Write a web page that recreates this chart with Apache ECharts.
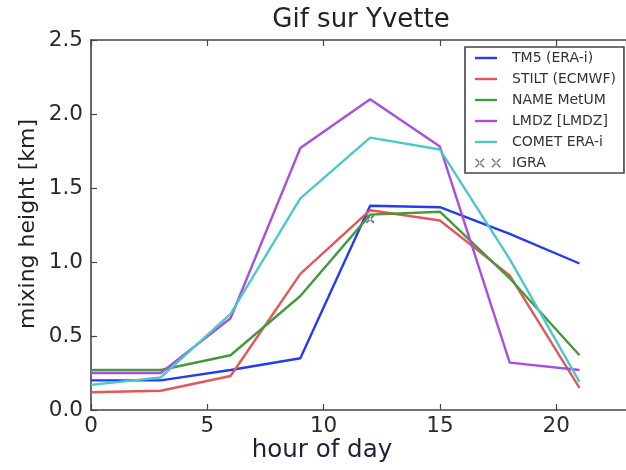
<!DOCTYPE html>
<html><head><meta charset="utf-8">
<script src="https://cdn.jsdelivr.net/npm/echarts@6/dist/echarts.min.js"></script>
<style>html,body{margin:0;padding:0;background:#fff}#c{width:626px;height:470px}</style>
</head><body><div id="c"></div>
<script>
const hours = [0, 3, 6, 9, 12, 15, 18, 21];
const tm5 = [0.20, 0.20, 0.27, 0.35, 1.38, 1.37, 1.19, 0.99];
const stilt = [0.12, 0.13, 0.23, 0.92, 1.35, 1.28, 0.91, 0.15];
const nameMet = [0.27, 0.27, 0.37, 0.77, 1.32, 1.34, 0.89, 0.37];
const lmdz = [0.25, 0.25, 0.62, 1.77, 2.10, 1.78, 0.32, 0.27];
const comet = [0.17, 0.22, 0.65, 1.43, 1.84, 1.76, 1.02, 0.19];
const igraHours = [12];
const igra = [1.29];
const seriesNames = ['TM5 (ERA-i)', 'STILT (ECMWF)', 'NAME MetUM', 'LMDZ [LMDZ]', 'COMET ERA-i', 'IGRA'];
const colors = ['#233cf2', '#e05858', '#46993a', '#a84ee0', '#4cc8c8', '#555555'];
const xTicks = [0, 5, 10, 15, 20];
const yTicks = [0.0, 0.5, 1.0, 1.5, 2.0, 2.5];

const zip = (xs, ys) => xs.map((x, i) => [x, ys[i]]);
const lineIcon = 'path://M0,0M32,10M0,3.8L22,3.8L22,6.2L0,6.2Z';
function crossPath(cx, cy, r, d) {
  return 'M' + (cx - r - d) + ',' + (cy - r + d) + 'L' + (cx - r + d) + ',' + (cy - r - d) +
    'L' + (cx + r + d) + ',' + (cy + r - d) + 'L' + (cx + r - d) + ',' + (cy + r + d) + 'Z' +
    'M' + (cx - r - d) + ',' + (cy + r - d) + 'L' + (cx - r + d) + ',' + (cy + r + d) +
    'L' + (cx + r + d) + ',' + (cy - r + d) + 'L' + (cx + r - d) + ',' + (cy - r - d) + 'Z';
}
const crossSym = 'path://' + crossPath(5, 5, 4, 0.7);
const igraIcon = 'path://M0,0M32,10' + crossPath(4.5, 5, 4.3, 0.55) + crossPath(21, 5, 4.3, 0.55);

const lineData = [tm5, stilt, nameMet, lmdz, comet];
const series = lineData.map((d, i) => ({
  name: seriesNames[i], type: 'line', data: zip(hours, d), symbol: 'none',
  lineStyle: { color: colors[i], width: 2.4 }, itemStyle: { color: colors[i] },
  emphasis: { disabled: true }, silent: true, animation: false
}));
series.push({
  name: seriesNames[5], type: 'scatter', data: zip(igraHours, igra),
  symbol: crossSym, symbolSize: 9, itemStyle: { color: colors[5], opacity: 0.8 },
  silent: true, animation: false
});

const axisLine = { show: true, lineStyle: { color: '#444', width: 1.6 } };
const axisTick = { show: true, inside: true, length: 6, lineStyle: { color: '#444', width: 1.2 } };
const font = 'DejaVu Sans';

const chart = echarts.init(document.getElementById('c'), null, { renderer: 'canvas' });
chart.setOption({
  animation: false,
  grid: { left: 91, top: 40, right: -5, bottom: 60, containLabel: false },
  xAxis: [{
    type: 'value', min: 0, max: 23, interval: 5,
    axisLine, axisTick, splitLine: { show: false },
    axisLabel: { fontFamily: font, fontSize: 21.5, color: '#2a2a2a', margin: 5, showMaxLabel: false,
      formatter: v => xTicks.includes(v) ? String(v) : '' }
  }, {
    type: 'value', min: 0, max: 23, interval: 5, position: 'top',
    axisLine, axisTick, splitLine: { show: false }, axisLabel: { show: false }
  }],
  yAxis: [{
    type: 'value', min: 0, max: 2.5, interval: 0.5,
    axisLine, axisTick, splitLine: { show: false },
    axisLabel: { fontFamily: font, fontSize: 21.5, color: '#2a2a2a', margin: 8,
      formatter: v => yTicks.find(t => Math.abs(t - v) < 1e-9) !== undefined ? v.toFixed(1) : '' }
  }],
  legend: {
    orient: 'vertical', left: 465, top: 47,
    data: seriesNames.map((n, i) => ({ name: n, icon: i < 5 ? lineIcon : igraIcon })),
    itemWidth: 32, itemHeight: 10, itemGap: 7,
    padding: [4, 8, 3, 10],
    borderColor: '#444', borderWidth: 1.6, backgroundColor: '#fff',
    textStyle: { fontFamily: font, fontSize: 14, color: '#333', lineHeight: 14 },
    selectedMode: false
  },
  graphic: [
    { type: 'text', x: 361, y: 20, style: { text: 'Gif sur Yvette', fontFamily: font, fontSize: 26, fill: '#222', align: 'center', verticalAlign: 'middle' } },
    { type: 'text', x: 322, y: 451, style: { text: 'hour of day', fontFamily: font, fontSize: 24.5, fill: '#1e2038', align: 'center', verticalAlign: 'middle' } },
    { type: 'text', x: 28, y: 224, rotation: Math.PI / 2, style: { text: 'mixing height [km]', fontFamily: font, fontSize: 22, fill: '#222', align: 'center', verticalAlign: 'middle' } }
  ],
  series
});
</script></body></html>
